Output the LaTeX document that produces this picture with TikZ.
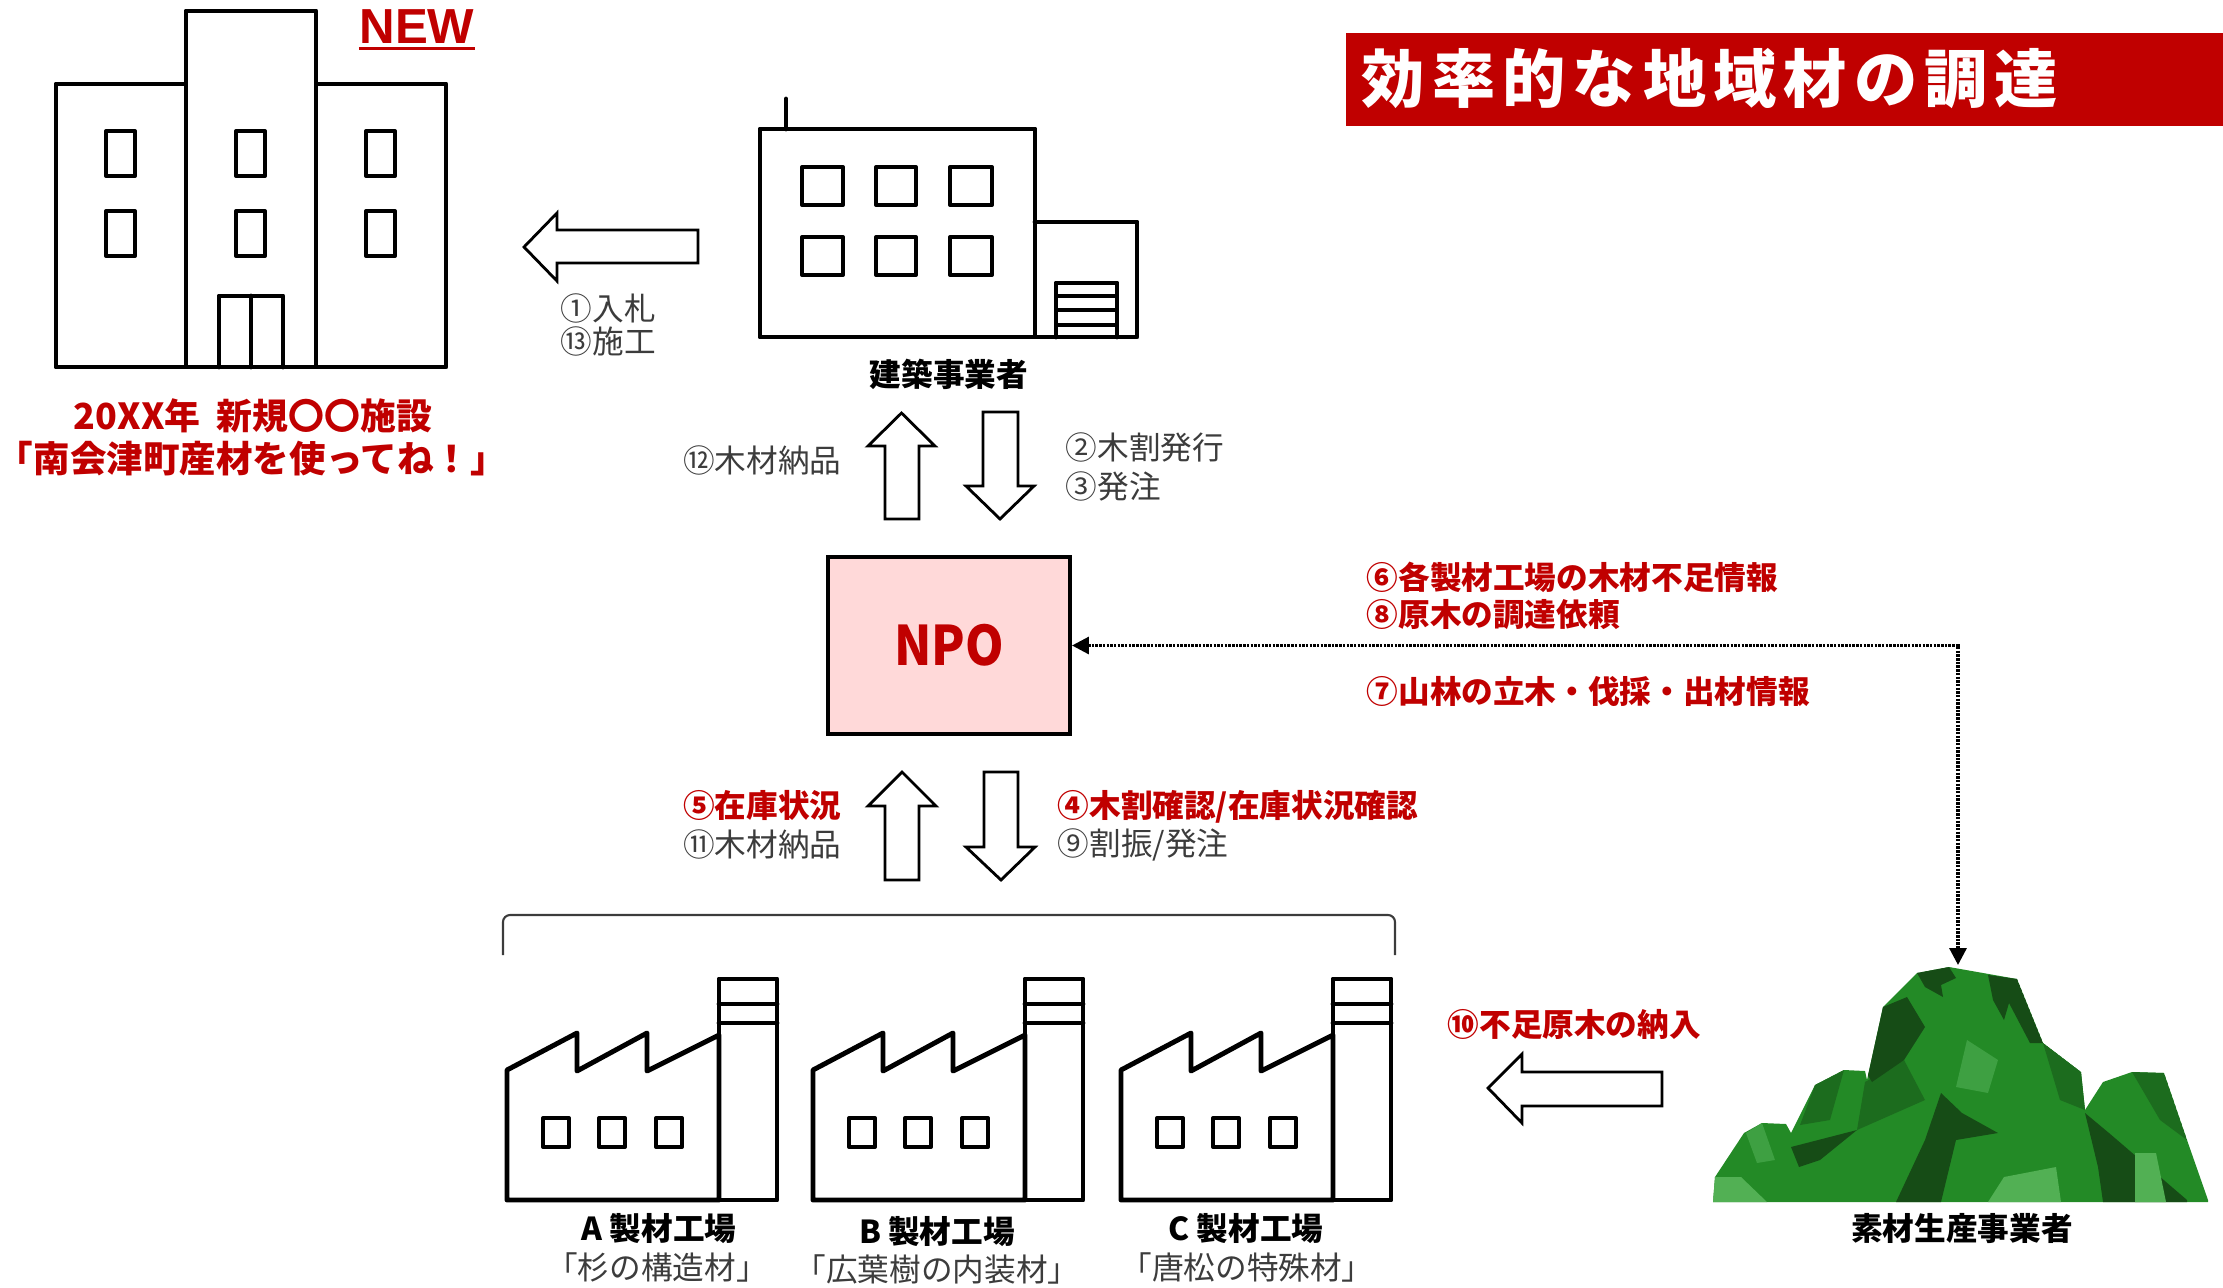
\documentclass[tikz,border=0pt]{standalone}
\usepackage{fontspec}
\setmainfont{Noto Sans CJK JP}
\newfontfamily\latf{Liberation Sans}
\usetikzlibrary{arrows.meta}

\definecolor{jred}{RGB}{192,0,0}
\definecolor{tgray}{RGB}{60,60,60}
\definecolor{npofill}{RGB}{255,217,217}
\definecolor{mmain}{RGB}{35,138,38}
\definecolor{mdark}{RGB}{28,108,30}
\definecolor{mvdark}{RGB}{22,76,22}
\definecolor{mlight}{RGB}{62,160,66}
\definecolor{mlighter}{RGB}{82,176,84}

% half-width corner brackets
\newcommand\lbr{\makebox[0.5em][r]{「}}
\newcommand\rbr{\makebox[0.5em][l]{」}}
\newcommand\ts{\hspace{2pt}}

\tikzset{
  ico/.style={line width=1.4pt, line join=round, line cap=round},
  win/.style={line width=1.15pt, line join=round},
  barrow/.style={draw=black, line width=0.8pt, fill=white, line join=miter},
  lbl/.style={inner sep=0pt, font=\fontsize{9}{9}\selectfont},
  grayl/.style={lbl, text=tgray},
  redl/.style={inner sep=0pt, text=jred, font=\fontsize{9}{9}\selectfont\bfseries},
  blkl/.style={inner sep=0pt, text=black, font=\fontsize{9}{9}\selectfont\bfseries},
  dotc/.style={line width=0.9pt, dash pattern=on 0.7pt off 0.35pt,
    {Triangle[length=4.8pt,width=4.8pt]}-{Triangle[length=4.8pt,width=4.8pt]}},
}

\def\mtnshape{(1713,1202) -- (1715,1177) -- (1744,1133) -- (1762,1123) -- (1786,1124)
  -- (1791,1133) -- (1815,1085) -- (1844,1070) -- (1865,1071) -- (1867,1080)
  -- (1883,1007) -- (1917,973) -- (1949,967) -- (2017,979) -- (2043,1043)
  -- (2081,1072) -- (2085,1110) -- (2103,1082) -- (2132,1072) -- (2164,1073)
  -- (2187,1140) -- (2208,1200) -- (2208,1202) -- cycle}

\begin{document}
\begin{tikzpicture}[x=0.01cm,y=-0.01cm]
\useasboundingbox (0,0) rectangle (2223,1287);

% ---- title bar ----
\fill[jred] (1346,33) rectangle (2223,126);
\node[inner sep=0pt, text=white, font=\fontsize{18}{18}\selectfont\bfseries] (title) at (1710,79)
  {効\ts 率\ts 的\ts な\ts 地\ts 域\ts 材\ts の\ts 調\ts 達};

% ---- new facility ----
\node[inner sep=0pt, text=jred, font=\latf\fontsize{14}{14}\selectfont\bfseries, anchor=base] (new) at (417,43) {NEW};
\draw[jred, line width=0.85pt] ([yshift=-1.7pt]new.base west) -- ([yshift=-1.7pt]new.base east);

\draw[ico] (56,84) rectangle (186,367);
\draw[ico] (186,11) rectangle (316,367);
\draw[ico] (316,84) rectangle (446,367);
\foreach \x in {106,236,366} \foreach \y in {131,211} \draw[win] (\x,\y) rectangle ++(29,45);
\draw[ico] (219,367) -- (219,296) -- (283,296) -- (283,367);
\draw[ico] (251,296) -- (251,367);

\node[inner sep=0pt, text=jred, font=\fontsize{10.2}{10.2}\selectfont\bfseries] (facname) at (253,416)
  {20XX年\hspace{0.45em}新規〇〇施設};
\node[inner sep=0pt, text=jred, font=\fontsize{10.4}{10.4}\selectfont\bfseries] (slogan) at (252,459)
  {\lbr 南会津町産材を使ってね！\rbr};

% ---- builder ----
\draw[ico] (760,129) rectangle (1035,337);
\draw[ico] (786,99) -- (786,129);
\draw[ico] (1035,222) -- (1137,222) -- (1137,337) -- (1035,337);
\foreach \x/\w in {802/41,876/40,950/42} \foreach \y in {167,237} \draw[win] (\x,\y) rectangle ++(\w,38);
\draw[ico] (1056,337) -- (1056,283) -- (1117,283) -- (1117,337);
\foreach \y in {296,310,325} \draw[win] (1056,\y) -- (1117,\y);
\node[blkl] (builder) at (949,374) {建築事業者};

% arrow to the facility
\draw[barrow] (524,247) -- (557,213) -- (557,230) -- (698,230) -- (698,263) -- (557,263) -- (557,281) -- cycle;
\node[grayl, anchor=west] (s1) at (560,308) {①入札};
\node[grayl, anchor=west] (s13) at (560,341) {⑬施工};

% arrows builder <-> NPO
\draw[barrow] (901.5,413) -- (935,446) -- (919,446) -- (919,519) -- (885,519) -- (885,446) -- (868,446) -- cycle;
\draw[barrow] (1000,519) -- (1034,486) -- (1018,486) -- (1018,412) -- (983,412) -- (983,486) -- (966,486) -- cycle;
\node[grayl, anchor=east] (s12) at (842,460) {⑫木材納品};
\node[grayl, anchor=west] (s2) at (1065,447) {②木割発行};
\node[grayl, anchor=west] (s3) at (1065,486) {③発注};

% ---- NPO ----
\node[draw, line width=1.1pt, fill=npofill, minimum width=2.42cm,
  minimum height=1.77cm, inner sep=0pt, text=jred,
  font=\fontsize{15.5}{15.5}\selectfont\bfseries] (npo) at (949,645.5) {\scalebox{0.9}[1]{NPO}};

\node[redl, anchor=west] (s6) at (1366,577) {⑥各製材工場の木材不足情報};
\node[redl, anchor=west] (s8) at (1366,615) {⑧原木の調達依頼};
\node[redl, anchor=west] (s7) at (1366,691) {⑦山林の立木・伐採・出材情報};

% arrows NPO <-> mills
\draw[barrow] (902,772) -- (936,806) -- (919,806) -- (919,880) -- (885,880) -- (885,806) -- (868,806) -- cycle;
\draw[barrow] (1001,880) -- (1035,847) -- (1018,847) -- (1018,772) -- (984,772) -- (984,847) -- (966,847) -- cycle;
\node[redl, anchor=east] (s5) at (842,805) {⑤在庫状況};
\node[grayl, anchor=east] (s11) at (842,844) {⑪木材納品};
\node[redl, anchor=west] (s4) at (1057,807) {④木割確認/在庫状況確認};
\node[grayl, anchor=west] (s9) at (1057,845) {⑨割振/発注};

% ---- sawmills ----
\draw[line width=0.6pt, tgray, rounded corners=2pt] (503,955) -- (503,915) -- (1395,915) -- (1395,955);
\foreach \dx in {0,306,614} {
  \begin{scope}[shift={(\dx,0)}]
    \draw[ico] (507,1200) -- (507,1070) -- (577,1033) -- (577,1071) -- (647,1033) -- (647,1071)
      -- (719,1035) -- (719,1200) -- cycle;
    \draw[ico] (719,979) rectangle (777,1200);
    \draw[ico] (719,1004) -- (777,1004);
    \draw[ico] (719,1023) -- (777,1023);
    \foreach \wx in {543,599,656} \draw[win] (\wx,1118) rectangle ++(26,29);
  \end{scope}
}
\node[blkl] (millA) at (659,1229) {A 製材工場};
\node[grayl] (woodA) at (657,1267) {\lbr 杉の構造材\rbr};
\node[blkl] (millB) at (937,1232) {B 製材工場};
\node[grayl] (woodB) at (937,1269) {\lbr 広葉樹の内装材\rbr};
\node[blkl] (millC) at (1246,1229) {C 製材工場};
\node[grayl] (woodC) at (1247,1267) {\lbr 唐松の特殊材\rbr};

% ---- forest producer ----
\fill[mmain] \mtnshape;
\begin{scope}
  \clip \mtnshape;
  \fill[mdark] (1865,1082) -- (1904,1060) -- (1925,1100) -- (1857,1130) -- cycle;
  \fill[mvdark] (1917,973) -- (1949,967) -- (1956,978) -- (1941,985) -- (1943,997) -- (1925,987) -- cycle;
  \fill[mvdark] (1883,1007) -- (1907,997) -- (1925,1027) -- (1904,1060) -- (1872,1082) -- (1865,1071) -- cycle;
  \fill[mvdark] (1988,975) -- (2017,979) -- (2043,1043) -- (2030,1043) -- (2009,1003) -- (2004,1020) -- (1993,1000) -- cycle;
  \fill[mvdark] (1941,1093) -- (1962,1113) -- (1998,1133) -- (1956,1140) -- (1941,1202) -- (1896,1202) -- (1925,1140) -- cycle;
  \fill[mvdark] (2085,1113) -- (2109,1133) -- (2187,1200) -- (2187,1202) -- (2103,1202) -- (2098,1167) -- cycle;
  \fill[mvdark] (1791,1147) -- (1857,1130) -- (1820,1160) -- (1799,1167) -- cycle;
  \fill[mdark] (2043,1043) -- (2081,1072) -- (2085,1110) -- (2060,1100) -- cycle;
  \fill[mdark] (1815,1085) -- (1844,1070) -- (1830,1120) -- (1800,1125) -- cycle;
  \fill[mdark] (2132,1072) -- (2164,1073) -- (2187,1140) -- (2160,1120) -- cycle;
  \fill[mlight] (1967,1040) -- (1998,1060) -- (1988,1093) -- (1956,1087) -- cycle;
  \fill[mlight] (1746,1133) -- (1762,1123) -- (1775,1160) -- (1757,1163) -- cycle;
  \fill[mlighter] (1715,1177) -- (1741,1177) -- (1767,1202) -- (1713,1202) -- cycle;
  \fill[mlighter] (2004,1177) -- (2056,1167) -- (2061,1202) -- (1988,1202) -- cycle;
  \fill[mlighter] (2135,1153) -- (2156,1153) -- (2166,1202) -- (2135,1202) -- cycle;
\end{scope}
\coordinate (mtop) at (1958,965);
\node[blkl] (producer) at (1962,1228) {素材生産事業者};

% supply of logs to the mills
\draw[barrow] (1488,1088) -- (1522,1054) -- (1522,1072) -- (1662,1072) -- (1662,1106) -- (1522,1106) -- (1522,1123) -- cycle;
\node[redl, anchor=west] (s10) at (1447,1024) {⑩不足原木の納入};

% information link NPO <-> producer
\draw[dotc] (npo.east) -| (mtop);

\end{tikzpicture}
\end{document}
